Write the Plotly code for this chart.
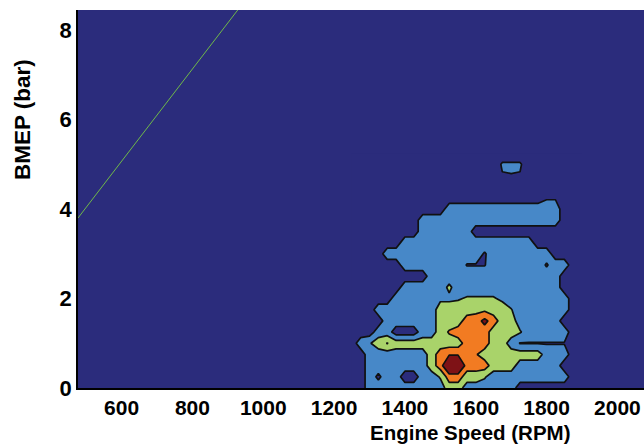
import plotly.graph_objects as go

# ---- data ----
engine_speed_rpm = [1250, 1275, 1300, 1325, 1350, 1375, 1400, 1425, 1450, 1475, 1500,
                    1525, 1550, 1575, 1600, 1625, 1650, 1675, 1700, 1725, 1750, 1775,
                    1800, 1825, 1850, 1875, 1900]
bmep_bar = [0, 0.25, 0.5, 0.75, 1.0, 1.25, 1.5, 1.75, 2.0, 2.25, 2.5, 2.75, 3.0, 3.25,
            3.5, 3.75, 4.0, 4.25, 4.5, 4.75, 5.0, 5.25]

# contour band value per grid node (rows follow bmep_bar, columns follow engine_speed_rpm)
z_rows = [
    [0, 0, 1, 1, 1, 1, 1, 1, 1, 1, 1, 2, 2, 1, 1, 1, 1, 1, 1, 0, 0, 0, 0, 0, 0, 0, 0],
    [0, 0, 1, 0.3, 1, 1, 0, 0, 1, 1, 1.6, 3, 3, 2, 2, 1.6, 1, 1, 1, 1, 1, 1, 1, 1, 1, 0, 0],
    [0, 0, 1, 1, 1, 1, 1, 1, 1, 2, 3, 5, 5, 3, 3, 3, 2, 2, 2, 1, 1, 1, 1, 1, 0, 0, 0],
    [0, 0, 1, 1, 1, 1, 1, 1, 1, 2, 3, 3.4, 3.4, 3, 2.6, 2, 2, 2, 2, 2, 2, 2, 1, 1, 1, 0, 0],
    [0, 1, 1.4, 2, 2.55, 2, 2, 2, 2, 2, 2, 2, 2, 3, 3, 3, 2, 2, 1, 0.45, 0.45, 0.45, 0.45, 0.45, 0.45, 0, 0],
    [0, 0, 0, 1, 1, 0, 0, 0, 1, 1, 2, 2.6, 3, 3, 3, 3, 2, 2, 2, 1.6, 1, 1, 1, 1, 1, 0, 0],
    [0, 0, 0, 0, 1, 1, 1, 1, 1, 1, 2, 2, 2, 3, 3, 3.8, 3, 2, 2, 1, 1, 1, 1, 1, 0, 0, 0],
    [0, 0, 0, 1, 1, 1, 1, 1, 1, 1, 2, 2, 2, 2, 2.2, 2.3, 2, 2, 1.55, 1, 1, 1, 1, 1, 1, 0, 0],
    [0, 0, 0, 0, 0, 1, 1, 1, 1, 1, 1.3, 1.3, 1.4, 1.6, 1.6, 1.6, 1.6, 1.3, 1, 1, 1, 1, 1, 1, 1, 0, 0],
    [0, 0, 0, 0, 0, 0, 1, 1, 1, 1, 1, 1.7, 1, 1, 1, 1, 1, 1, 1, 1, 1, 1, 1, 1, 0, 0, 0],
    [0, 0, 0, 0, 0, 0, 0, 0, 0, 1, 1, 1, 1, 1, 1, 1, 1, 1, 1, 1, 1, 1, 1, 1, 0, 0, 0],
    [0, 0, 0, 0, 0, 0, 1, 1, 1, 1, 1, 1, 1, 0.45, 0.45, 0.45, 1, 1, 1, 1, 1, 1, 0.4, 1, 1, 0, 0],
    [0, 0, 0, 0, 1, 1, 1, 1, 1, 1, 1, 1, 1, 1, 1, 0.4, 1, 1, 1, 1, 1, 1, 1, 0, 0, 0, 0],
    [0, 0, 0, 0, 0, 0, 1, 1, 1, 1, 1, 1, 1, 1, 1, 1, 1, 1, 1, 1, 1, 0, 0, 0, 0, 0, 0],
    [0, 0, 0, 0, 0, 0, 0, 0, 1, 1, 1, 1, 1, 1, 0, 0, 0, 0, 0, 0, 0, 0, 0, 0, 0, 0, 0],
    [0, 0, 0, 0, 0, 0, 0, 0, 1, 1, 1, 1, 1, 1, 1, 1, 1, 1, 1, 1, 1, 1, 1, 1, 0, 0, 0],
    [0, 0, 0, 0, 0, 0, 0, 0, 0, 0, 0, 1, 1, 1, 1, 1, 1, 1, 1, 1, 1, 1, 1, 1, 0, 0, 0],
    [0, 0, 0, 0, 0, 0, 0, 0, 0, 0, 0, 0, 0, 0, 0, 0, 0, 0, 0, 0, 0, 0, 0.4, 0.4, 0, 0, 0],
    [0, 0, 0, 0, 0, 0, 0, 0, 0, 0, 0, 0, 0, 0, 0, 0, 0, 0, 0, 0, 0, 0, 0, 0, 0, 0, 0],
    [0, 0, 0, 0, 0, 0, 0, 0, 0, 0, 0, 0, 0, 0, 0, 0, 0, 0.45, 0.48, 0.45, 0, 0, 0, 0, 0, 0, 0],
    [0, 0, 0, 0, 0, 0, 0, 0, 0, 0, 0, 0, 0, 0, 0, 0, 0, 0.6, 0.6, 0.6, 0, 0, 0, 0, 0, 0, 0],
    [0, 0, 0, 0, 0, 0, 0, 0, 0, 0, 0, 0, 0, 0, 0, 0, 0, 0, 0, 0, 0, 0, 0, 0, 0, 0, 0],
]

# straight limit line (green)
limit_rpm = [477, 928]
limit_bmep = [3.8, 8.45]

x_ticks = [600, 800, 1000, 1200, 1400, 1600, 1800, 2000]
y_ticks = [0, 2, 4, 6, 8]

# ---- styling ----
NAVY = "#2b2c7c"
BLUE = "#4788c8"
GREEN = "#a9d36a"
ORANGE = "#f27b22"
DARKRED = "#7e1216"
FONT = "Arial, Liberation Sans, sans-serif"

fig = go.Figure()
fig.add_trace(go.Contour(
    x=engine_speed_rpm, y=bmep_bar, z=z_rows,
    contours=dict(start=0.5, end=3.5, size=1, coloring="fill", showlines=True),
    colorscale=[[0, NAVY], [0.25, BLUE], [0.5, GREEN], [0.75, ORANGE], [1, DARKRED]],
    line=dict(color="#111111", width=1.7, smoothing=0),
    showscale=False, hoverinfo="skip",
))
fig.add_trace(go.Scatter(
    x=limit_rpm, y=limit_bmep, mode="lines",
    line=dict(color="#6fb84a", width=1), hoverinfo="skip",
))

fig.update_layout(
    width=644, height=444,
    margin=dict(l=78, r=0, t=10, b=56),
    plot_bgcolor=NAVY, paper_bgcolor="white",
    showlegend=False,
    font=dict(family=FONT, color="black"),
    annotations=[
        dict(text="<b>Engine Speed (RPM)</b>", xref="paper", yref="paper",
             x=0.6926, y=-0.1177, xanchor="center", yanchor="middle",
             showarrow=False, font=dict(size=20.5, family=FONT, color="black")),
        dict(text="<b>BMEP (bar)</b>", xref="paper", yref="paper",
             x=-0.097, y=0.709, xanchor="center", yanchor="middle", textangle=-90,
             showarrow=False, font=dict(size=22.5, family=FONT, color="black")),
    ],
)
fig.update_xaxes(
    range=[477, 2075], tickmode="array", tickvals=x_ticks,
    ticktext=[f"<b>{t}</b>" for t in x_ticks],
    tickfont=dict(size=21, family=FONT, color="black"),
    showline=True, linecolor="black", linewidth=1.5,
    ticks="", showgrid=False, zeroline=False, ticklabelstandoff=0,
)
fig.update_yaxes(
    range=[0, 8.45], tickmode="array", tickvals=y_ticks,
    ticktext=[f"<b>{t}</b>" for t in y_ticks],
    tickfont=dict(size=22, family=FONT, color="black"),
    showline=True, linecolor="black", linewidth=1.5,
    ticks="", showgrid=False, zeroline=False, ticklabelstandoff=0,
)

# remove the browser's default 8px body margin so the figure fills the window
fig.write_html("out.html", config={"displayModeBar": False},
               post_script="document.body.style.margin='0';")
